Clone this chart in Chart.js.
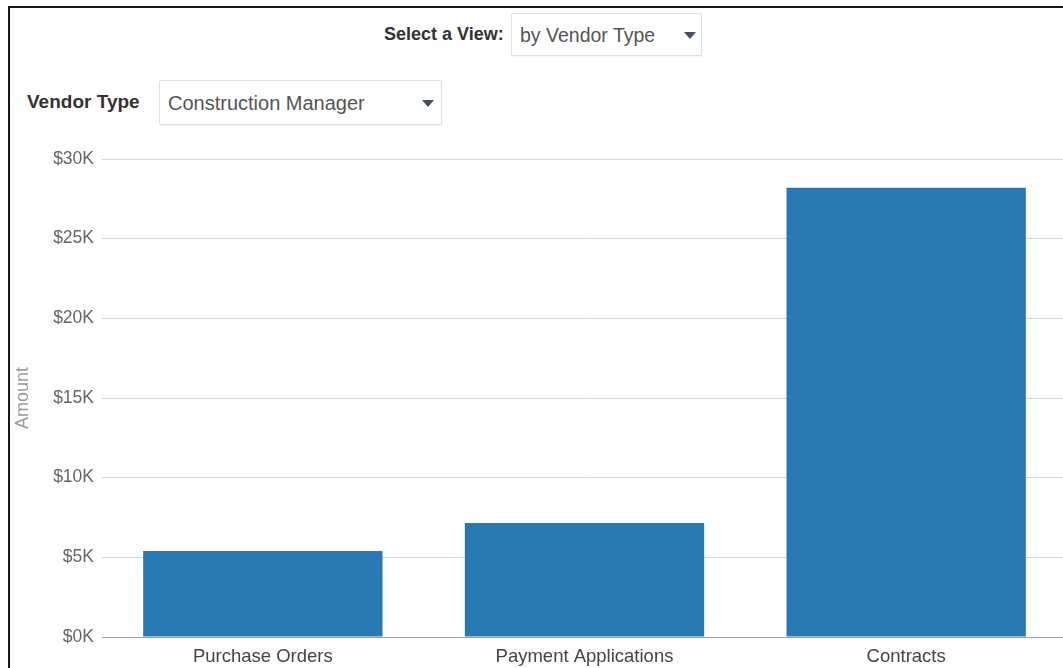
<!DOCTYPE html>
<html>
<head>
<meta charset="utf-8">
<script src="https://cdn.jsdelivr.net/npm/chart.js@4"></script>
<style>
  body { margin: 0; width: 1063px; height: 668px; overflow: hidden; background: #fff; position: relative; font-family: "Liberation Sans", Arial, sans-serif; }
  .frame { position: absolute; left: 8px; top: 6px; width: 1100px; height: 700px; border-left: 2px solid #151515; border-top: 2px solid #151515; }
  .lbl { position: absolute; font-weight: bold; color: #333; font-size: 18px; }
  .dd { position: absolute; background: #fff; border: 1px solid #dcdfe3; border-radius: 2px; color: #555; box-sizing: border-box; box-shadow: 0 1px 1px rgba(0,0,0,0.04); }
  .dd span { position: absolute; left: 8px; top: 50%; transform: translateY(-50%); white-space: nowrap; }
  .dd i { position: absolute; width: 0; height: 0; border-left: 6px solid transparent; border-right: 6px solid transparent; border-top: 7px solid #44505e; top: 50%; margin-top: -3px; }
  .chartBox { position: absolute; left: 10px; top: 139px; width: 1057px; height: 529px; }
</style>
</head>
<body>
<div class="frame"></div>

<div class="lbl" style="left:384px; top:24px;">Select a View:</div>
<div class="dd" style="left:511px; top:13px; width:191px; height:43px; font-size:19.5px;">
  <span>by Vendor Type</span><i style="left:172px;"></i>
</div>

<div class="lbl" style="left:27px; top:91px; font-size:19px;">Vendor Type</div>
<div class="dd" style="left:159px; top:80px; width:283px; height:45px; font-size:20px;">
  <span>Construction Manager</span><i style="left:262px;"></i>
</div>

<div class="chartBox"><canvas id="chart"></canvas></div>

<script>
const categories = ['Purchase Orders', 'Payment Applications', 'Contracts'];
const amounts = [5400, 7150, 28200];
const yTickLabels = ['$0K', '$5K', '$10K', '$15K', '$20K', '$25K', '$30K'];
const yStep = 5000;

const chart = document.querySelector('#chart');

new Chart(chart, {
    type: 'bar',
    data: {
        labels: categories,
        datasets: [{
            label: 'Amount',
            data: amounts,
            backgroundColor: '#2879b1',
            borderWidth: 0,
            categoryPercentage: 1,
            barPercentage: 0.744
        }]
    },
    options: {
        responsive: true,
        maintainAspectRatio: false,
        animation: false,
        layout: { padding: { top: 20, right: 0, bottom: 0, left: 0 } },
        plugins: {
            legend: { display: false },
            tooltip: { enabled: false }
        },
        scales: {
            x: {
                grid: { display: false },
                border: { color: '#a3a3a3', width: 1 },
                ticks: {
                    color: '#444',
                    padding: 1,
                    font: { family: '"Liberation Sans", Arial, sans-serif', size: 18.5 }
                },
                afterFit: s => { s.height = 31; }
            },
            y: {
                min: 0,
                max: 30000,
                ticks: {
                    stepSize: yStep,
                    color: '#666',
                    padding: 8,
                    font: { family: '"Liberation Sans", Arial, sans-serif', size: 17.5 },
                    callback: (v) => yTickLabels[Math.round(v / yStep)]
                },
                grid: {
                    drawTicks: false,
                    color: ctx => ctx.tick && ctx.tick.value === 0 ? '#a3a3a3' : '#cdd7e2',
                    lineWidth: 1
                },
                border: { display: false },
                title: {
                    display: true,
                    text: 'Amount',
                    color: '#9a9a9a',
                    padding: { top: 2, bottom: 2 },
                    font: { family: '"Liberation Sans", Arial, sans-serif', size: 18 }
                },
                afterFit: s => { s.width = 92; }
            }
        }
    }
});
</script>
</body>
</html>
